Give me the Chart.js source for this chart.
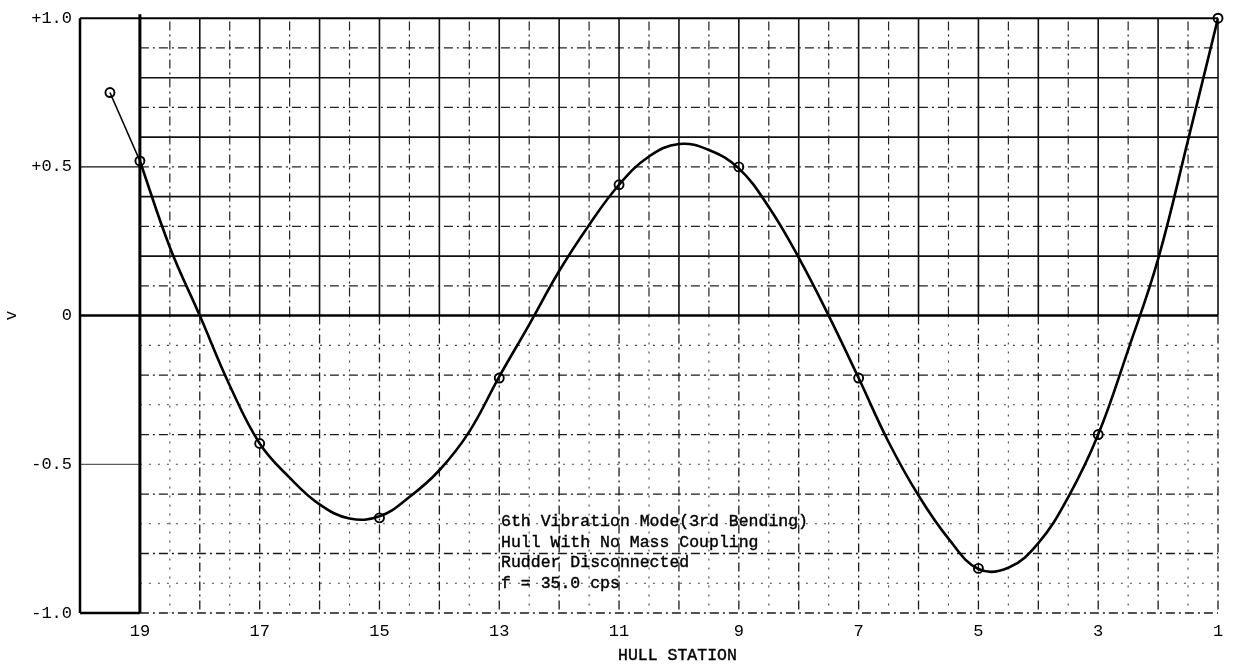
<!DOCTYPE html>
<html>
<head>
<meta charset="utf-8">
<title>6th Vibration Mode</title>
<script src="https://cdn.jsdelivr.net/npm/chart.js@4.4.1/dist/chart.umd.min.js"></script>
<style>
  html, body { margin: 0; padding: 0; background: #fff; }
  #wrap { width: 1235px; height: 670px; }
</style>
</head>
<body>
<div id="wrap"><canvas id="mode-chart"></canvas></div>
<script>
// ---------- DATA ----------
// measured deflections (circles)
const stations = [19.5, 19, 17, 15, 13, 11, 9, 7, 5, 3, 1];
const deflection = [0.75, 0.52, -0.43, -0.68, -0.21, 0.44, 0.5, -0.21, -0.85, -0.4, 1.0];

// faired curve, read every half station
const curveStations = [19, 18.5, 18, 17.5, 17, 16.5, 16, 15.5, 15, 14.5, 14, 13.5, 13, 12.5, 12, 11.5, 11,
  10.5, 10, 9.5, 9, 8.5, 8, 7.5, 7, 6.5, 6, 5.5, 5, 4.5, 4, 3.5, 3, 2.5, 2, 1.5, 1];
const curveValues = [0.52, 0.23, 0.0, -0.235, -0.43, -0.545, -0.635, -0.682, -0.675, -0.61, -0.52, -0.39, -0.205,
  -0.03, 0.15, 0.305, 0.44, 0.535, 0.577, 0.557, 0.495, 0.365, 0.195, 0.0, -0.21, -0.425, -0.605, -0.75, -0.852,
  -0.848, -0.765, -0.61, -0.4, -0.115, 0.19, 0.59, 1.0];

const stationTicks = [19, 17, 15, 13, 11, 9, 7, 5, 3, 1];
const vTicks = [1, 0.5, 0, -0.5, -1];
const vTickLabels = ["+1.0", "+0.5", "0", "-0.5", "-1.0"];

const noteLines = ["6th Vibration Mode(3rd Bending)", "Hull With No Mass Coupling", "Rudder Disconnected", "f = 35.0 cps"];

const typeFont = "'Liberation Mono', 'Courier New', monospace";
const toXY = (xs, ys) => xs.map((s, i) => ({ x: s, y: ys[i] }));

// ---------- GRAPH PAPER ----------
const dashDot = [9, 4, 2, 4];
const dotted = [2, 7];

const graphPaper = {
  id: "graphPaper",
  beforeDatasetsDraw(chart) {
    const { ctx, chartArea: a, scales } = chart;
    const px = (s) => scales.x.getPixelForValue(s);
    const py = (v) => scales.y.getPixelForValue(v);
    const line = (x1, y1, x2, y2, width, dash, color) => {
      ctx.save();
      ctx.strokeStyle = color || "#111";
      ctx.lineWidth = width;
      ctx.setLineDash(dash);
      ctx.beginPath();
      ctx.moveTo(x1, y1);
      ctx.lineTo(x2, y2);
      ctx.stroke();
      ctx.restore();
    };
    const x19 = px(19);
    const x1 = px(1);
    const y0 = py(0);

    // upper half: solid every 0.2 / integer station, dash-dot in between
    for (let k = 1; k <= 9; k++) {
      const yy = py(k / 10);
      if (k % 2 == 0) line(x19, yy, x1, yy, 1.6, [], "#111");
      else line(x19, yy, x1, yy, 1.2, dashDot, "#222");
    }
    for (let s = 18.5; s > 1; s -= 0.5) {
      if (Number.isInteger(s)) line(px(s), y0, px(s), a.top, 1.6, [], "#111");
      else line(px(s), y0, px(s), a.top, 1.2, dashDot, "#222");
    }

    // lower half: all broken lines
    for (let k = 1; k <= 9; k++) {
      const yy = py(-k / 10);
      if (k % 2 == 0) line(x19, yy, x1, yy, 1.3, dashDot, "#1a1a1a");
      else line(x19, yy, x1, yy, 1.1, dotted, "#444");
    }
    for (let s = 18.5; s > 1; s -= 0.5) {
      if (Number.isInteger(s)) line(px(s), y0, px(s), a.bottom, 1.3, dashDot, "#1a1a1a");
      else line(px(s), y0, px(s), a.bottom, 1.1, dotted, "#444");
    }

    // frame
    line(a.left, a.top, a.right, a.top, 2, [], "#000");
    line(a.left, a.bottom, x19, a.bottom, 2.5, [], "#000");
    line(x19, a.bottom, a.right, a.bottom, 1.5, dashDot, "#1a1a1a");
    line(a.right, a.top, a.right, y0, 1.6, [], "#111");
    line(a.right, y0, a.right, a.bottom, 1.3, dashDot, "#1a1a1a");
    line(a.left, py(0.5), x19, py(0.5), 1.2, [], "#111");
    line(a.left, py(-0.5), x19, py(-0.5), 1, [], "#333");
    line(a.left, y0, a.right, y0, 2.5, [], "#000");
    line(a.left, a.top, a.left, a.bottom, 2.5, [], "#000");
    line(x19, a.top - 4, x19, a.bottom, 3, [], "#000");
  },
  afterDraw(chart) {
    const { ctx, chartArea: a, scales } = chart;
    ctx.save();
    ctx.fillStyle = "#000";
    ctx.strokeStyle = "#000";
    ctx.lineWidth = 0.4;
    ctx.font = "16.5px " + typeFont;
    ctx.textBaseline = "alphabetic";
    ctx.textAlign = "left";
    const nx = scales.x.getPixelForValue(12.97);
    noteLines.forEach((t, i) => {
      ctx.fillText(t, nx, 526 + i * 20.5);
      ctx.strokeText(t, nx, 526 + i * 20.5);
    });
    ctx.textAlign = "center";
    const hx = a.left + (a.right - a.left) * 0.525;
    ctx.fillText("HULL STATION", hx, 660);
    ctx.strokeText("HULL STATION", hx, 660);
    ctx.restore();
  },
};

// ---------- CHART ----------
const chartId = document.getElementById("mode-chart");

const modeChart = new Chart(chartId, {
  type: "scatter",
  data: {
    datasets: [
      {
        label: "curve",
        data: toXY(curveStations, curveValues),
        showLine: true,
        borderColor: "#000",
        borderWidth: 2.6,
        tension: 0.4,
        pointRadius: 0,
      },
      {
        label: "end",
        data: toXY(stations.slice(0, 2), deflection.slice(0, 2)),
        showLine: true,
        borderColor: "#000",
        borderWidth: 1.6,
        tension: 0,
        pointRadius: 0,
      },
      {
        label: "measured",
        data: toXY(stations, deflection),
        showLine: false,
        pointStyle: "circle",
        pointRadius: 4.5,
        pointBorderWidth: 1.9,
        pointBorderColor: "#000",
        pointBackgroundColor: "rgba(255,255,255,0)",
        clip: false,
      },
    ],
  },
  options: {
    responsive: true,
    maintainAspectRatio: false,
    animation: false,
    events: [],
    layout: {
      padding: { top: 17, right: 17, left: 0, bottom: 0 },
    },
    plugins: {
      legend: { display: false },
      tooltip: { enabled: false },
    },
    scales: {
      x: {
        type: "linear",
        reverse: true,
        min: 1,
        max: 20,
        grid: { display: false, drawTicks: false },
        border: { display: false },
        afterBuildTicks: (scale) => {
          scale.ticks = stationTicks.map((v) => ({ value: v }));
        },
        afterFit: (scale) => {
          scale.height = 57;
        },
        ticks: {
          autoSkip: false,
          maxRotation: 0,
          padding: 8,
          color: "#000",
          font: { family: typeFont, size: 17 },
          callback: (v) => String(v),
        },
      },
      y: {
        min: -1,
        max: 1,
        grid: { display: false, drawTicks: false },
        border: { display: false },
        afterBuildTicks: (scale) => {
          scale.ticks = vTicks.map((v) => ({ value: v }));
        },
        afterFit: (scale) => {
          scale.width = 80;
        },
        ticks: {
          padding: 8,
          color: "#000",
          font: { family: typeFont, size: 17 },
          callback: (v) => vTickLabels[vTicks.indexOf(v)],
        },
        title: {
          display: true,
          text: "v",
          color: "#000",
          padding: { top: 2, bottom: 0 },
          font: { family: typeFont, size: 16.5 },
        },
      },
    },
  },
  plugins: [graphPaper],
});
</script>
</body>
</html>
